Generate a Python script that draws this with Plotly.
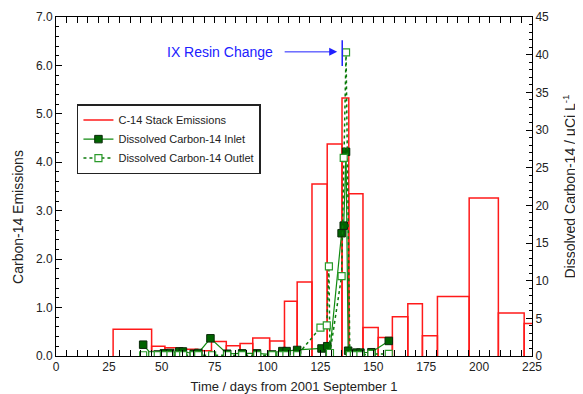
import plotly.graph_objects as go

# Stack emissions (step histogram): bin edges (days) and heights
bin_edges = [27, 45.2, 51.5, 59.5, 67, 73.5, 80.5, 87, 93, 101, 108, 114, 121,
             128.2, 135.2, 138.4, 145.1, 152.3, 159, 166.3, 173.2, 180.3, 195.3,
             209.1, 221.3, 232]
stack_emissions = [0.55, 0.2, 0.17, 0.14, 0.11, 0.3, 0.21, 0.26, 0.37, 0.31, 1.13,
                   1.53, 3.55, 4.38, 5.33, 3.35, 0.59, 0.38, 0.81, 1.08, 0.42, 1.23,
                   3.26, 0.89, 0.67]

# Dissolved C-14 inlet
inlet_days = [41.2, 45.5, 48, 51, 54, 58.3, 60, 65.1, 67.3, 73, 80.9, 88, 95, 102.2,
              107, 109, 114, 125.5, 128.2, 129.3, 135, 136, 137.1, 138.1, 142,
              143.9, 149.1, 157.3]
inlet_vals = [1.5, 0.1, 0.2, 0.35, 0.4, 0.6, 0.6, 0.3, 0.4, 2.35, 0.3, 0.35, 0.35, 0.2,
              0.65, 0.65, 0.8, 1.0, 1.3, 0.2, 16.3, 17.3, 27.1, 0.7, 0.45, 0.45,
              0.5, 2.0]

# Dissolved C-14 outlet
outlet_days = [41.2, 45.5, 48.1, 51, 54.1, 58, 60.1, 65.1, 67.2, 73.8, 80.9, 88, 95.1,
               102.2, 106.1, 108.9, 114, 125, 128, 129, 129.5, 135, 136, 137.1,
               138.9, 140.8, 143.9, 149.1, 157.3]
outlet_vals = [0.1, 0.1, 0.1, 0.1, 0.1, 0.1, 0.1, 0.1, 0.1, 0.1, 0.1, 0.1, 0.1,
               0.1, 0.1, 0.1, 0.1, 3.76, 4.07, 11.9, 0.4, 10.6, 26.3, 40.3,
               0.1, 0.1, 0.1, 0.27, 0.27]

x_ticks = [0, 25, 50, 75, 100, 125, 150, 175, 200, 225]

FONT = "Liberation Sans, Arial, sans-serif"
TXT = "#222222"

# rectangle outlines for each emission bin
bx, by = [], []
for i, h in enumerate(stack_emissions):
    x0, x1 = bin_edges[i], bin_edges[i + 1]
    bx += [x0, x0, x1, x1, None]
    by += [0, h, h, 0, None]

fig = go.Figure()
fig.add_trace(go.Scatter(x=bx, y=by, mode="lines", name="C-14 Stack Emissions",
                         line=dict(color="#ff1a1a", width=1.5), yaxis="y"))
fig.add_trace(go.Scatter(x=inlet_days, y=inlet_vals, mode="lines+markers",
                         name="Dissolved Carbon-14 Inlet", yaxis="y2",
                         line=dict(color="#108a10", width=1.2),
                         marker=dict(symbol="square", size=7.5, color="#006400",
                                     line=dict(color="#0a2a0a", width=1))))
fig.add_trace(go.Scatter(x=outlet_days, y=outlet_vals, mode="lines+markers",
                         name="Dissolved Carbon-14 Outlet", yaxis="y2",
                         line=dict(color="#0a7a0a", width=1.5, dash="dot"),
                         marker=dict(symbol="square", size=7, color="white",
                                     line=dict(color="#2a9a2a", width=1.2))))

fig.add_annotation(x=77.7, y=6.28, xref="x", yref="y", text="IX Resin Change",
                   showarrow=False, font=dict(family=FONT, size=14, color="#2020ff"))
fig.add_annotation(x=132.9, y=6.28, xref="x", yref="y", text="", showarrow=True,
                   ax=-54, ay=0, arrowhead=2, arrowsize=1.6, arrowwidth=1,
                   arrowcolor="#2020ff")
fig.add_shape(type="line", x0=135.3, x1=135.3, y0=5.99, y1=6.52, xref="x", yref="y",
              line=dict(color="#2020ff", width=1.5))

# left axis title (placed off-centre as in the original)
fig.add_annotation(x=-0.08, y=0.41, xref="paper", yref="paper",
                   xanchor="center", yanchor="middle",
                   text="Carbon-14 Emissions", textangle=-90, showarrow=False,
                   font=dict(family=FONT, size=14, color=TXT))

# page body has an 8px margin, so the figure is sized/placed to compensate
fig.update_layout(
    width=575, height=386,
    margin=dict(l=48, r=51, t=9, b=38),
    paper_bgcolor="white", plot_bgcolor="white",
    font=dict(family=FONT, size=12, color=TXT),
    showlegend=True,
    legend=dict(x=0.044, y=0.743, xanchor="left", yanchor="top",
                bordercolor="#222", borderwidth=1.5, bgcolor="white",
                font=dict(size=11, color=TXT), tracegroupgap=0,
                itemwidth=30),
    xaxis=dict(range=[0, 225], tickvals=x_ticks, ticks="inside", ticklen=6,
               tickcolor="black", showline=True, linecolor="black", linewidth=1,
               mirror="allticks", showgrid=False, zeroline=False, automargin=False,
               minor=dict(ticks="inside", dtick=5, ticklen=3, tickcolor="black"),
               title=dict(text="Time / days from 2001 September 1", standoff=8,
                          font=dict(size=13))),
    yaxis=dict(range=[0, 7], dtick=1, tickformat=".1f", ticks="inside", ticklen=6,
               tickcolor="black", showline=True, linecolor="black", linewidth=1,
               showgrid=False, zeroline=False, automargin=False,
               minor=dict(ticks="inside", dtick=0.2, ticklen=3, tickcolor="black")),
    yaxis2=dict(range=[0, 45], dtick=5, overlaying="y", side="right",
                ticks="inside", ticklen=6, tickcolor="black", showline=True,
                linecolor="black", linewidth=1, showgrid=False, zeroline=False,
                automargin=False,
                minor=dict(ticks="inside", dtick=1, ticklen=3, tickcolor="black"),
                title=dict(text="Dissolved Carbon-14 / μCi L<sup>-1</sup>",
                           standoff=17, font=dict(size=14))),
)

fig.write_html("out.html")
